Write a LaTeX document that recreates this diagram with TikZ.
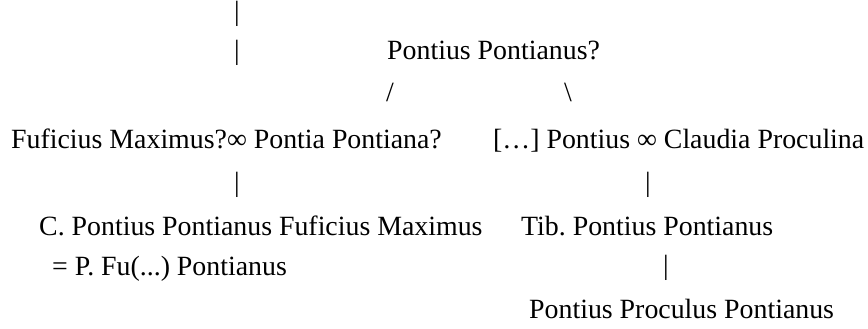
\documentclass[tikz,border=0pt]{standalone}
\usepackage{fontspec}
\setmainfont{Liberation Serif}
\frenchspacing
\begin{document}
\begin{tikzpicture}[x=1pt, y=-1pt,
    person/.style={anchor=base west, inner sep=0pt},
    link/.style={anchor=base, inner sep=0pt},
    font=\fontsize{27.85}{33}\selectfont]
  \useasboundingbox (0, 0) rectangle (868, 329);
  % Nodes
  \node[person] at (387, 60) (pp) {Pontius Pontianus?};
  \node[person] at (11, 148) (fm) {Fuficius Maximus?∞ Pontia Pontiana?};
  \node[person] at (493, 148) (cp) {[…] Pontius ∞ Claudia Proculina};
  \node[person] at (39, 235) (cpf) {C. Pontius Pontianus Fuficius Maximus};
  \node[person] at (52, 275) (pfu) {= P. Fu(...) Pontianus};
  \node[person] at (521, 235) (tib) {Tib. Pontius Pontianus};
  \node[person] at (529, 318) (ppp) {Pontius Proculus Pontianus};

  % Links
  \node[link] at (237, 21) (up1) {|};
  \node[link] at (237, 60) (up2) {|};
  \node[link] at (390, 101) (sl) {/};
  \node[link] at (568, 101) (bs) {\textbackslash};
  \node[link] at (237, 191) (dn1) {|};
  \node[link] at (648, 191) (dn2) {|};
  \node[link] at (666, 274) (dn3) {|};
\end{tikzpicture}
\end{document}
